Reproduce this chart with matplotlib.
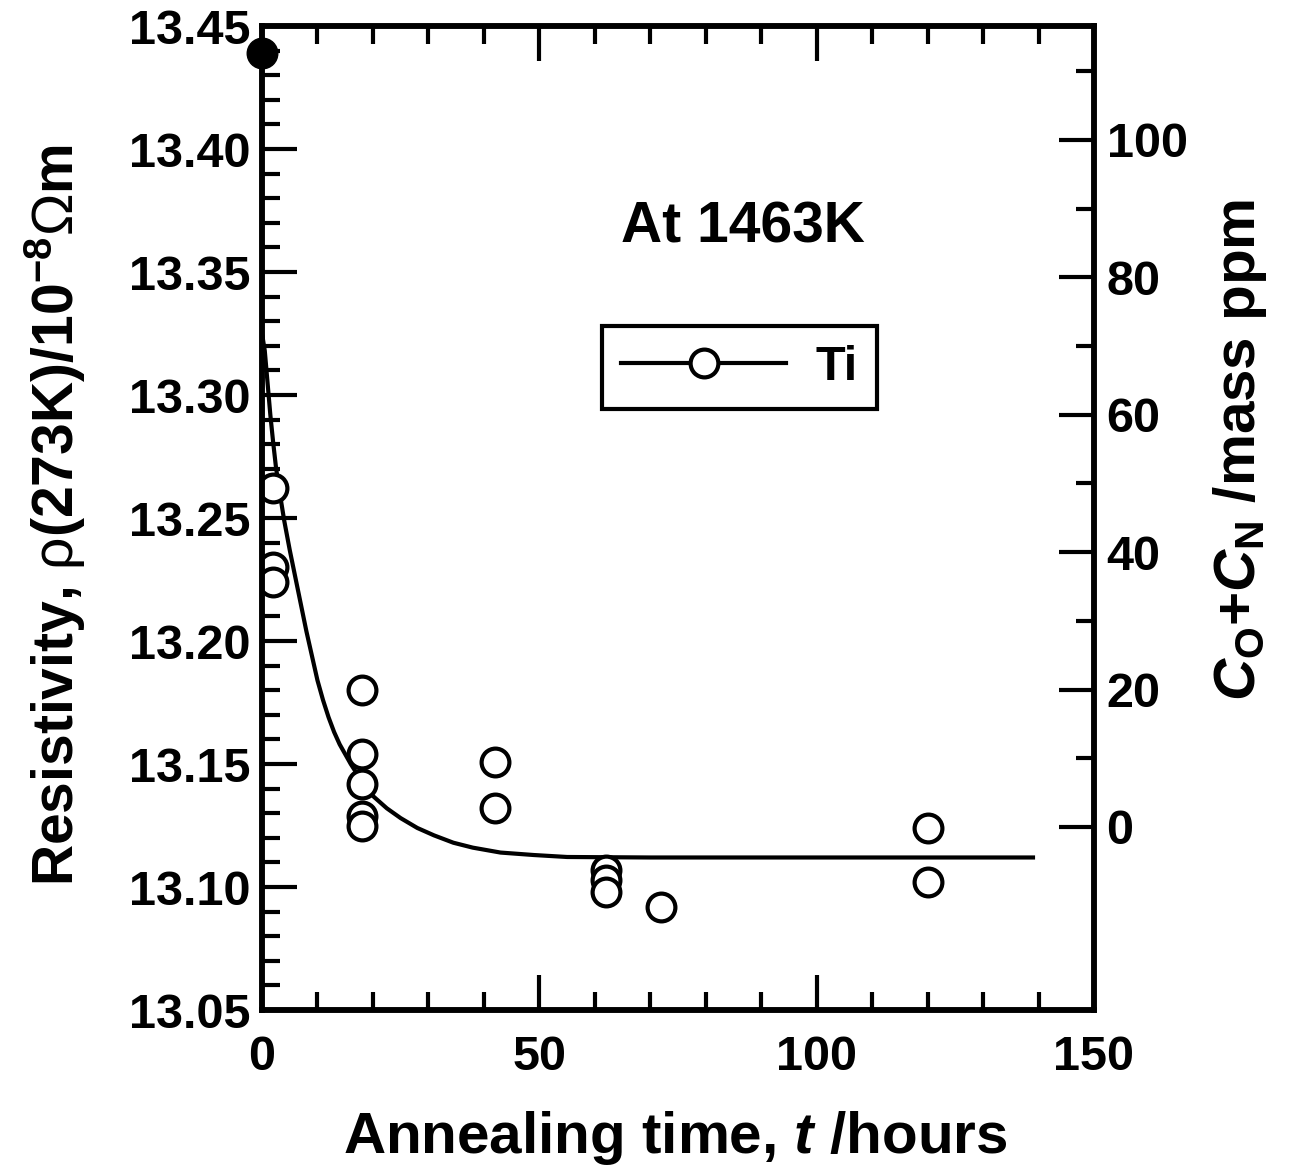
#!/usr/bin/env python3
"""
Resistivity of Ti versus annealing time at 1463K, with the equivalent
C_O + C_N impurity content on the right-hand axis.
"""

import matplotlib
matplotlib.use("Agg")
import matplotlib.pyplot as plt
from matplotlib.lines import Line2D
from matplotlib.ticker import MultipleLocator, FixedLocator

# Measured points (open circles)
anneal_hours = [2, 2, 2, 18, 18, 18, 18, 18, 42, 42, 62, 62, 62, 72, 120, 120]
resistivity = [13.262, 13.230, 13.224,
               13.180, 13.154, 13.142, 13.129, 13.125,
               13.151, 13.132,
               13.107, 13.103, 13.098,
               13.092,
               13.124, 13.102]

# As-received value (filled circle)
initial_hours = [0]
initial_rho = [13.439]

# Fitted curve
fit_hours = [0, 0.5, 1, 1.5, 2, 2.5, 3, 4, 5, 6, 7, 8, 9, 10, 11, 12, 13,
             14, 15, 16, 18, 20, 22.5, 25, 28, 31, 34.5, 38, 43, 49, 55,
             70, 100, 139]
fit_rho = [13.325, 13.318, 13.305, 13.292, 13.281, 13.271, 13.263, 13.249,
           13.237, 13.226, 13.215, 13.204, 13.194, 13.184, 13.176, 13.169,
           13.163, 13.158, 13.154, 13.150, 13.143, 13.137, 13.132, 13.128,
           13.124, 13.121, 13.118, 13.116, 13.114, 13.113, 13.1122,
           13.112, 13.112, 13.112]

# Right axis: C_O + C_N (mass ppm) tied to the resistivity scale
ppm_zero_rho = 13.1244
rho_per_100ppm = 0.2793

W, H = 1292, 1174
DPI = 100


def rho_to_ppm(rho):
    return (rho - ppm_zero_rho) / rho_per_100ppm * 100.0


def style_ticks(ax, which_axis, pad):
    ax.tick_params(axis=which_axis, which="major", direction="in",
                   length=25, width=3, pad=pad, labelsize=35)
    ax.tick_params(axis=which_axis, which="minor", direction="in",
                   length=13, width=3)


def main():
    plt.rcParams["font.family"] = ["Liberation Sans", "DejaVu Sans"]
    plt.rcParams["font.weight"] = "bold"
    plt.rcParams["mathtext.fontset"] = "custom"
    plt.rcParams["mathtext.rm"] = "Liberation Sans:regular"
    plt.rcParams["mathtext.it"] = "Liberation Sans:italic:bold"
    plt.rcParams["mathtext.bf"] = "Liberation Sans:bold"

    fig = plt.figure(figsize=(W / DPI, H / DPI), dpi=DPI)
    ax = fig.add_axes([262 / W, 1 - 1010 / H, (1094 - 262) / W, (1010 - 26) / H])

    # fitted curve, data, initial value
    ax.plot(fit_hours, fit_rho, color="black", lw=3)
    ax.plot(anneal_hours, resistivity, ls="none", marker="o", ms=20,
            mfc="white", mec="black", mew=3)
    ax.plot(initial_hours, initial_rho, ls="none", marker="o", ms=22,
            color="black", clip_on=False, zorder=5)

    ax.set_xlim(0, 150)
    ax.set_ylim(13.05, 13.45)
    ax.xaxis.set_major_locator(MultipleLocator(50))
    ax.xaxis.set_minor_locator(MultipleLocator(10))
    ax.yaxis.set_major_locator(MultipleLocator(0.05))
    ax.yaxis.set_minor_locator(MultipleLocator(0.01))
    ax.yaxis.set_major_formatter(plt.FormatStrFormatter("%.2f"))
    ax.tick_params(axis="x", which="both", top=True)
    style_ticks(ax, "x", 18)
    style_ticks(ax, "y", 8)
    for s in ax.spines.values():
        s.set_linewidth(4)

    # right axis in mass ppm
    ax2 = ax.twinx()
    ax2.set_ylim(rho_to_ppm(13.05), rho_to_ppm(13.45))
    ax2.yaxis.set_major_locator(FixedLocator([0, 20, 40, 60, 80, 100]))
    ax2.yaxis.set_minor_locator(FixedLocator([10, 30, 50, 70, 90, 110]))
    style_ticks(ax2, "y", 9)
    for s in ax2.spines.values():
        s.set_linewidth(4)

    # axis titles
    fig.text(675 / W, 1 - 1138 / H, "Annealing time, $\\mathit{t}$ /hours",
             fontsize=42, fontweight="bold", ha="center", va="center")
    fig.text(55 / W, 1 - 515 / H,
             "Resistivity, $\\mathrm{\u03c1}$(273K)/10$^{\\mathbf{-8}}$"
             "$\\mathrm{\u03a9}$m", fontsize=41, fontweight="bold",
             rotation=90, ha="center", va="center")
    fig.text(1240 / W, 1 - 450 / H,
             "$\\mathit{C}_\\mathbf{O}$+$\\mathit{C}_\\mathbf{N}$ /mass ppm",
             fontsize=42, fontweight="bold", rotation=90,
             ha="center", va="center")

    ax.text(0.578, 0.795, "At 1463K", transform=ax.transAxes, fontsize=41,
            fontweight="bold", ha="center", va="center")

    handle = Line2D([], [], color="black", lw=3, marker="o", ms=20,
                    mfc="white", mec="black", mew=3)
    leg = ax.legend([handle], ["Ti"], loc="center",
                    bbox_to_anchor=(0.574, 0.653), fontsize=35,
                    handlelength=3.4, handletextpad=0.6, fancybox=False,
                    framealpha=1, edgecolor="black", borderpad=0.4)
    leg.get_frame().set_linewidth(3)

    fig.savefig("out.png", dpi=DPI, facecolor="white")
    plt.close(fig)


if __name__ == "__main__":
    main()
